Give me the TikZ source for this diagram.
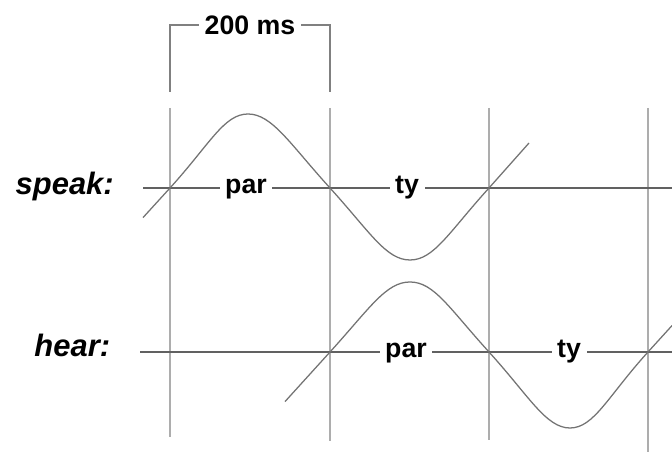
\documentclass[tikz,border=0pt]{standalone}
\usepackage{fontspec}
\setmainfont{Liberation Sans}
\usepackage{tikz}
\usetikzlibrary{positioning}

\begin{document}
\begin{tikzpicture}[
    vline/.style={draw=black!32, line width=1.8pt},
    axis/.style={draw=black!62, line width=1.2pt},
    wave/.style={draw=black!55, line width=0.9pt},
    syl/.style={fill=white, inner xsep=4pt, inner ysep=1pt, anchor=base,
        font=\fontsize{19}{22}\selectfont\bfseries},
    who/.style={inner sep=0pt, anchor=base east,
        font=\fontsize{22}{26}\selectfont\bfseries\itshape}]
    \useasboundingbox (0,0) rectangle (16.8,11.3);

    % 绘制竖线
    \foreach \x/\b in {4.25/0.375, 8.25/0.275, 12.225/0.3, 16.2/0}
        \draw[vline] (\x,8.6) -- (\x,\b);

    % 时间标记
    \node[syl, anchor=center] (dur) at (6.25,10.675) {200 ms};
    \coordinate (bl) at (4.25,9.0);
    \coordinate (br) at (8.25,9.0);
    \draw[draw=black!50, line width=1.3pt] (dur.west) -| (bl);
    \draw[draw=black!50, line width=1.3pt] (dur.east) -| (br);

    % 坐标轴
    \draw[axis] (3.575,6.6) -- (16.8,6.6);
    \draw[axis] (3.5,2.5) -- (16.8,2.5);

    % 添加音节
    \node[syl] (spar) at (6.15,6.45) {par};
    \node[syl] (sty) at (10.175,6.45) {ty};
    \node[syl] (hpar) at (10.15,2.35) {par};
    \node[syl] (hty) at (14.225,2.35) {ty};

    % 绘制波形
    \draw[wave] (3.575,5.86) -- (4.25,6.6)
        .. controls +(1,1.1) and +(-0.6,0) .. (6.2,8.45)
        .. controls +(0.6,0) and +(-1,1.1) .. (8.25,6.6)
        .. controls +(1,-1.1) and +(-0.6,0) .. (10.25,4.8)
        .. controls +(0.6,0) and +(-1,-1.1) .. (12.225,6.6)
        -- (13.225,7.725);
    \draw[wave] (7.125,1.26) -- (8.25,2.5)
        .. controls +(1,1.1) and +(-0.6,0) .. (10.25,4.25)
        .. controls +(0.6,0) and +(-1,1.1) .. (12.225,2.5)
        .. controls +(1,-1.1) and +(-0.6,0) .. (14.25,0.6)
        .. controls +(0.6,0) and +(-1,-1.1) .. (16.2,2.5)
        -- (16.8,3.16);

    % 左侧标签
    \node[who] (speak) at (2.85,6.425) {speak:};
    \node[who] (hear) at (2.76,2.375) {hear:};
\end{tikzpicture}
\end{document}
